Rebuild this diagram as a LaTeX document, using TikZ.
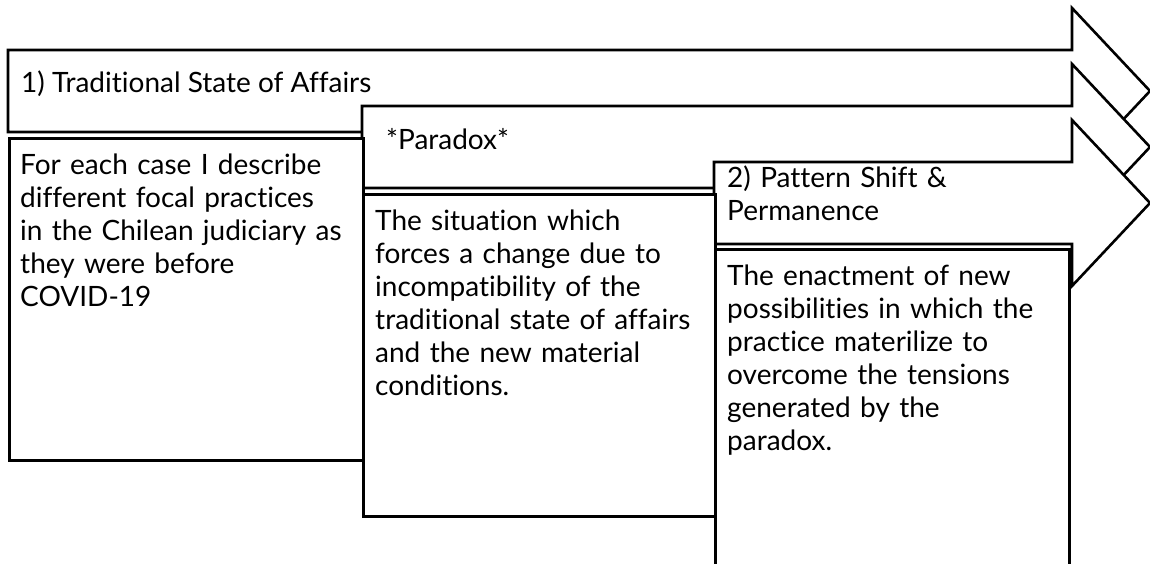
\documentclass[tikz,border=0pt]{standalone}
\usepackage{fontspec}
\setmainfont{Lato}[Ligatures=NoCommon]
\usetikzlibrary{positioning}
\definecolor{FrameBlack}{HTML}{000000}

\tikzset{
  blockarrow/.style={draw=FrameBlack, fill=white, line width=2.6pt, line join=miter},
  stagebox/.style={draw=FrameBlack, fill=white, line width=2.6pt, anchor=north west, inner sep=0pt},
  headtext/.style={anchor=base west, inner sep=0pt, font=\fontsize{28}{35}\selectfont},
  stagetext/.style={anchor=base west, inner sep=0pt, text width=340pt, align=left,
    font=\fontsize{28}{33}\selectfont},
}

\begin{document}
\begin{tikzpicture}[x=1pt, y=-1pt]
  \useasboundingbox (0,0) rectangle (1150,564);
  \foreach \xl/\yc in {8/91, 362/147, 714/203}
    \draw[blockarrow] (\xl,\yc-41) -- (1072,\yc-41) -- (1072,\yc-83) -- (1150,\yc)
      -- (1072,\yc+83) -- (1072,\yc+41) -- (\xl,\yc+41) -- cycle;

  \node[stagebox, minimum width=354pt, minimum height=322pt] (tradbox) at (8,137) {};
  \node[stagebox, minimum width=352pt, minimum height=322pt] (paradoxbox) at (362,193) {};
  \node[stagebox, minimum width=354pt, minimum height=330pt] (shiftbox) at (714,248) {};

  \node[headtext] (tradhead) at (21,93) {1) Traditional State of Affairs};
  \node[headtext] (paradoxhead) at (386,150) {*Paradox*};
  \node[stagetext] (shifthead) at (727,187) {2) Pattern Shift \&\\Permanence};

  \node[stagetext] (tradtext) at (20,175) {For each case I describe\\
    different focal practices\\in the Chilean judiciary as\\they were before\\COVID-19};
  \node[stagetext] (paradoxtext) at (375,230) {The situation which\\
    forces a change due to\\incompatibility of the\\traditional state of affairs\\
    and the new material\\conditions.};
  \node[stagetext] (shifttext) at (727,285) {The enactment of new\\
    possibilities in which the\\practice materilize to\\overcome the tensions\\
    generated by the\\paradox.};
\end{tikzpicture}
\end{document}
